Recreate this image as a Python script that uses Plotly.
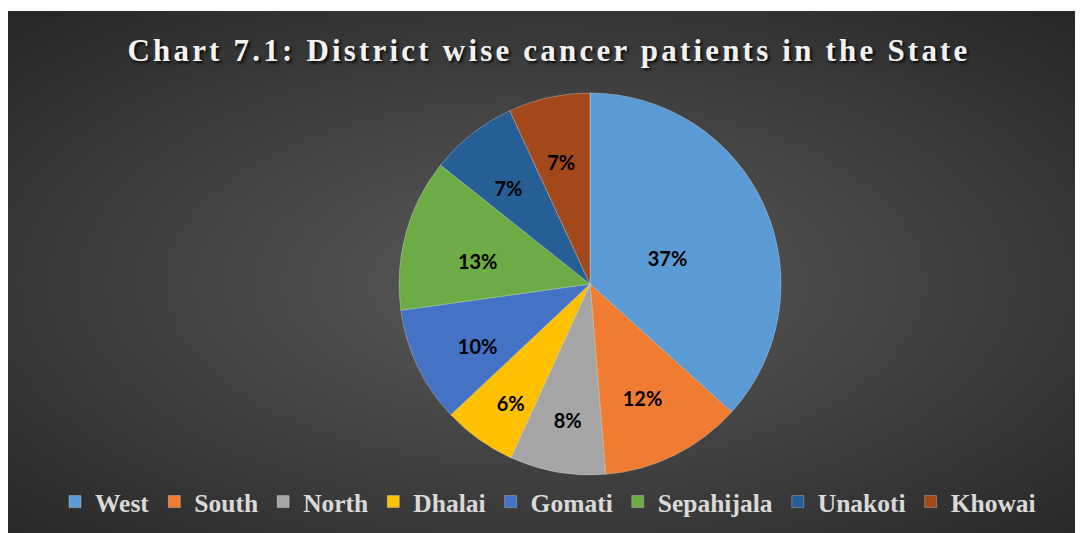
import base64
import plotly.graph_objects as go

districts = ["West", "South", "North", "Dhalai", "Gomati", "Sepahijala", "Unakoti", "Khowai"]
share = [36.7, 12.0, 8.1, 6.2, 9.8, 12.9, 7.4, 6.9]
colors = ["#5B9BD5", "#EF7C30", "#A5A5A5", "#FDC100", "#4472C4", "#6DAC45", "#255F96", "#A2481A"]
title_text = "Chart 7.1: District wise cancer patients in the State"

# page body has an 8px default margin, so the figure is placed at (8, 8)
OFF = 8
W, H = 1083 - OFF, 533 - OFF

cx, cy, R = 590 - OFF, 284 - OFF, 191
r_text = R * 0.85

svg = (
    '<svg xmlns="http://www.w3.org/2000/svg" width="1077" height="522" preserveAspectRatio="none">'
    '<defs><radialGradient id="g" cx="0.5" cy="0.52" r="0.72">'
    '<stop offset="0" stop-color="#5b5b5b"/><stop offset="1" stop-color="#262626"/>'
    '</radialGradient></defs><rect width="1077" height="522" fill="url(#g)"/></svg>'
)
bg_uri = "data:image/svg+xml;base64," + base64.b64encode(svg.encode()).decode()

fig = go.Figure()
fig.add_trace(
    go.Pie(
        labels=districts,
        values=share,
        sort=False,
        direction="clockwise",
        rotation=0,
        marker=dict(colors=colors, line=dict(color="rgba(255,255,255,0.35)", width=0.8)),
        textinfo="none",
        hoverinfo="label+percent",
        domain=dict(x=[(cx - R) / W, (cx + R) / W], y=[(H - cy - R) / H, (H - cy + R) / H]),
    )
)
# transparent label layer so the percentages sit closer to the centre, as in the reference
fig.add_trace(
    go.Pie(
        labels=districts,
        values=share,
        sort=False,
        direction="clockwise",
        rotation=0,
        showlegend=False,
        marker=dict(colors=["rgba(0,0,0,0)"] * len(districts), line=dict(width=0)),
        texttemplate="%{percent:.0%}",
        textposition="inside",
        insidetextorientation="horizontal",
        textfont=dict(family="Lato", size=20, color="#000000", weight="bold"),
        hoverinfo="skip",
        domain=dict(x=[(cx - r_text) / W, (cx + r_text) / W],
                    y=[(H - cy - r_text - 8) / H, (H - cy + r_text - 8) / H]),
    )
)

fig.update_layout(
    width=W,
    height=H,
    margin=dict(l=0, r=0, t=0, b=0),
    paper_bgcolor="#ffffff",
    plot_bgcolor="rgba(0,0,0,0)",
    images=[
        dict(
            source=bg_uri,
            xref="paper", yref="paper",
            x=0, y=1 - 3 / H,
            sizex=1, sizey=1 - 3 / H,
            xanchor="left", yanchor="top",
            sizing="stretch",
            layer="below",
        )
    ],
    title=dict(
        text=title_text,
        x=(549 - OFF) / W, xanchor="center",
        y=1 - (50 - OFF) / H, yanchor="middle",
        font=dict(family="Liberation Serif", size=31, color="#f2f2f2", weight="bold",
                  shadow="2px 2px 3px rgba(0,0,0,0.85)"),
    ),
    legend=dict(
        orientation="h",
        x=(548 - OFF) / W, xanchor="center",
        y=1 - (502 - OFF) / H, yanchor="middle",
        font=dict(family="Liberation Serif", size=25.5, color="#d9d9d9", weight="bold"),
        bgcolor="rgba(0,0,0,0)",
        itemwidth=30,
    ),
    showlegend=True,
)

post = """
var gd = document.getElementById('{plot_id}');
gd.querySelectorAll('.gtitle').forEach(function(e){ e.style.letterSpacing = '3.2px'; });
"""
fig.write_html("out.html", post_script=post)
